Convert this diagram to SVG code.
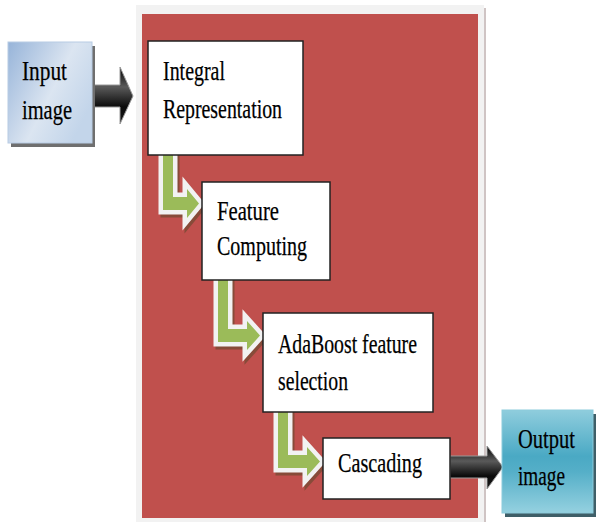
<svg xmlns="http://www.w3.org/2000/svg" width="596" height="526" viewBox="0 0 596 526">
<style>
.t{font-family:"Liberation Serif","Times New Roman",serif;font-size:28px;fill:#000;stroke:#000;stroke-width:0.25}
.box{fill:#fff;stroke:#222;stroke-width:1.5}
.gsh{fill:#7a4a35;stroke:#7a4a35;stroke-width:9;stroke-linejoin:miter;opacity:0.8}
.gwh{fill:#f2f2f2;stroke:#f2f2f2;stroke-width:9;stroke-linejoin:miter}
.ggr{fill:#9bbb59}
.blk{fill:url(#bk);stroke:#9a9a9a;stroke-width:1}
</style>
<defs>
<linearGradient id="inG" x1="0" y1="0" x2="1" y2="0.6">
<stop offset="0" stop-color="#97b4d9"/>
<stop offset="0.6" stop-color="#dbe5f1"/>
<stop offset="1" stop-color="#c3d5ea"/>
</linearGradient>
<linearGradient id="outG" x1="0" y1="0" x2="0" y2="1">
<stop offset="0" stop-color="#8fcddd"/>
<stop offset="0.45" stop-color="#4aa9c4"/>
<stop offset="0.6" stop-color="#55afc8"/>
<stop offset="1" stop-color="#95d1e0"/>
</linearGradient>
<linearGradient id="bk" x1="0" y1="0" x2="0" y2="1">
<stop offset="0" stop-color="#000"/>
<stop offset="0.35" stop-color="#5a5a5a"/>
<stop offset="0.7" stop-color="#0a0a0a"/>
<stop offset="1" stop-color="#1a1a1a"/>
</linearGradient>
</defs>
<rect width="596" height="526" fill="#fff"/>
<g id="panel">
<rect x="136" y="5" width="348" height="517" fill="#f2f2f2"/>
<rect x="484" y="8" width="2" height="514" fill="#cfc4c4"/>
<rect x="142" y="14" width="336" height="504" fill="#c0504d"/>
</g>
<g id="connectors">
<g id="c1">
<polygon class="gsh" transform="translate(2,3)" points="163,155 173,155 173,197 187,197 187,189 199,203.5 187,218 187,210 163,210"/>
<polygon class="gwh" points="163,155 173,155 173,197 187,197 187,189 199,203.5 187,218 187,210 163,210"/>
<polygon class="ggr" points="163,155 173,155 173,197 187,197 187,189 199,203.5 187,218 187,210 163,210"/>
</g>
<g id="c2">
<polygon class="gsh" transform="translate(2,3)" points="218,280 228,280 228,329 247,329 247,321 260,335.5 247,350 247,342 218,342"/>
<polygon class="gwh" points="218,280 228,280 228,329 247,329 247,321 260,335.5 247,350 247,342 218,342"/>
<polygon class="ggr" points="218,280 228,280 228,329 247,329 247,321 260,335.5 247,350 247,342 218,342"/>
</g>
<g id="c3">
<polygon class="gsh" transform="translate(2,3)" points="278,412 288,412 288,455 307,455 307,447 320,461.5 307,476 307,468 278,468"/>
<polygon class="gwh" points="278,412 288,412 288,455 307,455 307,447 320,461.5 307,476 307,468 278,468"/>
<polygon class="ggr" points="278,412 288,412 288,455 307,455 307,447 320,461.5 307,476 307,468 278,468"/>
</g>
<polygon id="a-in" class="blk" points="91,85 120,85 120,67 133,96 120,124 120,107 91,107"/>
<polygon id="a-out" class="blk" points="450,456 487,456 487,446 503,467 487,489 487,478 450,478"/>
</g>
<g id="input">
<rect x="11" y="46" width="84" height="101" fill="#6f6f6f"/>
<rect x="8" y="42" width="84" height="101" fill="url(#inG)" stroke="#b8cce4" stroke-width="1"/>
<text class="t" x="22" y="80" textLength="45" lengthAdjust="spacingAndGlyphs">Input</text>
<text class="t" x="22" y="119" textLength="50" lengthAdjust="spacingAndGlyphs">image</text>
</g>
<g id="integral">
<rect class="box" x="148" y="41" width="155" height="114"/>
<text class="t" x="163" y="80" textLength="62" lengthAdjust="spacingAndGlyphs">Integral</text>
<text class="t" x="163" y="118" textLength="119" lengthAdjust="spacingAndGlyphs">Representation</text>
</g>
<g id="feature">
<rect class="box" x="202" y="182" width="128" height="98"/>
<text class="t" x="217" y="220" textLength="62" lengthAdjust="spacingAndGlyphs">Feature</text>
<text class="t" x="217" y="255" textLength="90" lengthAdjust="spacingAndGlyphs">Computing</text>
</g>
<g id="adaboost">
<rect class="box" x="263" y="313" width="170" height="99"/>
<text class="t" x="278" y="353" textLength="139" lengthAdjust="spacingAndGlyphs">AdaBoost feature</text>
<text class="t" x="278" y="390" textLength="70" lengthAdjust="spacingAndGlyphs">selection</text>
</g>
<g id="cascading">
<rect class="box" x="323" y="438" width="127" height="61"/>
<text class="t" x="338" y="472" textLength="84" lengthAdjust="spacingAndGlyphs">Cascading</text>
</g>
<g id="output">
<rect x="505" y="414" width="91" height="103" fill="#3f5f68"/>
<rect x="502" y="410" width="91" height="103" fill="url(#outG)" stroke="#8ccbdb" stroke-width="1"/>
<text class="t" x="518" y="448" textLength="57" lengthAdjust="spacingAndGlyphs">Output</text>
<text class="t" x="518" y="485" textLength="47" lengthAdjust="spacingAndGlyphs">image</text>
</g>
</svg>
